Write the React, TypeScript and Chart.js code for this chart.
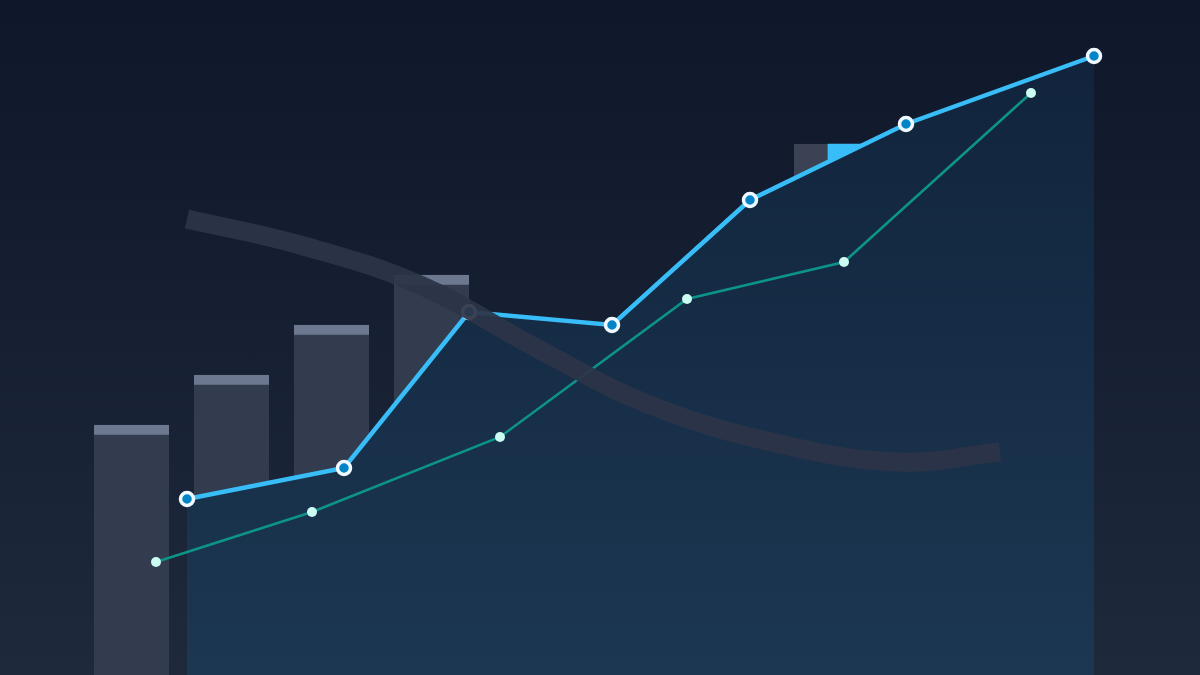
import React, { useEffect, useRef } from "react";
import { Chart, registerables } from "chart.js";

Chart.register(...registerables);

// Horizontal positions (0–1200 units) and values (0–675 units)
const barX = [131.5, 231.5, 331.5, 431.5, 831.5];
const barValues = [250, 300, 350, 400, 531];
const highlightX = [848.5];
const highlightValues = [531];

const mainX = [187, 344, 469, 612, 750, 906, 1094];
const mainValues = [176, 207, 363, 350, 475, 551, 619];

const secondX = [156, 312, 500, 687, 844, 1031];
const secondValues = [113, 163, 238, 376, 413, 582];

const trendX = [187, 300, 420, 540, 650, 780, 900, 1000];
const trendValues = [456, 430, 390, 325, 270, 231, 213, 223];

const zip = (xs: number[], ys: number[]) => xs.map((x, i) => ({ x, y: ys[i] }));

export default function App() {
  const ref = useRef<HTMLCanvasElement | null>(null);

  useEffect(() => {
    if (!ref.current) return;
    const chart = new Chart(ref.current, {
      type: "bar",
      data: {
        datasets: [
          {
            type: "line",
            data: zip(trendX, trendValues),
            borderColor: "rgba(44,52,71,0.93)",
            borderWidth: 19,
            borderCapStyle: "butt",
            pointRadius: 0,
            tension: 0.4,
            fill: false,
            order: 0,
          } as any,
          {
            type: "line",
            data: zip(secondX, secondValues),
            borderColor: "#0d9488",
            borderWidth: 2.5,
            pointRadius: 5,
            pointBackgroundColor: "#ccfbf1",
            pointBorderWidth: 0,
            tension: 0,
            fill: false,
            order: 2,
          } as any,
          {
            type: "line",
            data: zip(mainX, mainValues),
            borderColor: "#38bdf8",
            borderWidth: 4.5,
            pointRadius: 6.5,
            pointBackgroundColor: "#0284c7",
            pointBorderColor: "#f0f9ff",
            pointBorderWidth: 3.5,
            tension: 0,
            fill: "start",
            backgroundColor: (ctx: any) => {
              const area = ctx.chart.chartArea;
              if (!area) return "#17304a";
              const g = ctx.chart.ctx.createLinearGradient(0, area.top, 0, area.bottom);
              g.addColorStop(0, "#10223a");
              g.addColorStop(1, "#1c3752");
              return g;
            },
            order: 3,
          } as any,
          {
            type: "bar",
            data: zip(highlightX, highlightValues),
            backgroundColor: "#38bdf8",
            barThickness: 41,
            skipNull: true,
            order: 4,
          } as any,
          {
            type: "bar",
            data: zip(barX, barValues),
            backgroundColor: ["#323c4e", "#323c4e", "#323c4e", "#323c4e", "#3b4253"],
            borderColor: ["#6b7890", "#6b7890", "#6b7890", "#6b7890", "#3b4253"],
            borderWidth: { top: 10, left: 0, right: 0, bottom: 0 },
            borderSkipped: "start",
            barThickness: 75,
            skipNull: true,
            order: 5,
          } as any,
        ],
      },
      options: {
        animation: false,
        responsive: true,
        maintainAspectRatio: false,
        events: [],
        layout: { padding: 0, autoPadding: false },
        plugins: { legend: { display: false }, tooltip: { enabled: false } },
        scales: {
          x: { type: "linear", min: 0, max: 1200, offset: false, display: false },
          y: { type: "linear", min: 0, max: 675, display: false },
        },
      } as any,
    });
    return () => chart.destroy();
  }, []);

  return (
    <div
      style={{
        position: "fixed",
        left: 0,
        top: 0,
        width: 1200,
        height: 675,
        background: "linear-gradient(180deg, #0f172a 0%, #1e293b 100%)",
      }}
    >
      <canvas ref={ref} />
    </div>
  );
}
